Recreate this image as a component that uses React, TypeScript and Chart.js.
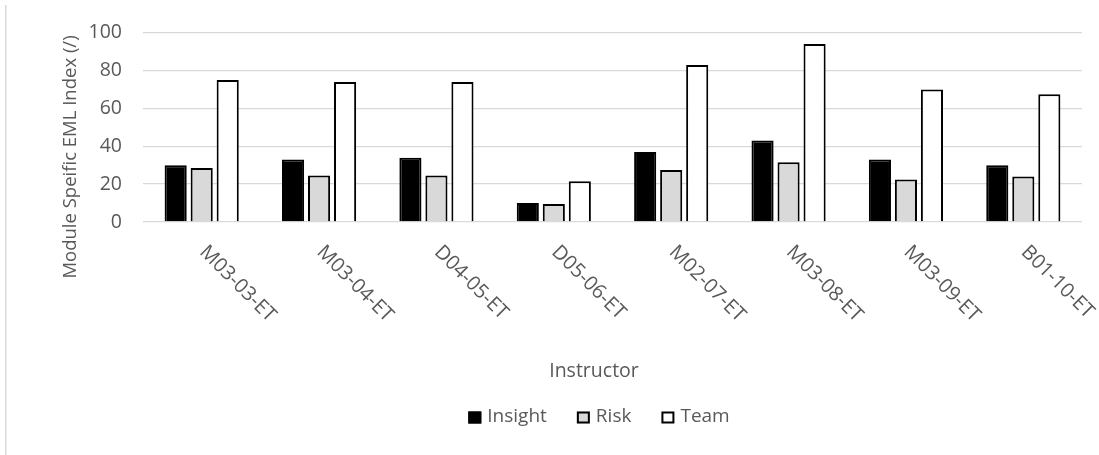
import React, { useEffect, useRef } from "react";
import { Chart, registerables } from "chart.js";

Chart.register(...registerables);

const categories = ["M03-03-ET", "M03-04-ET", "D04-05-ET", "D05-06-ET", "M02-07-ET", "M03-08-ET", "M03-09-ET", "B01-10-ET"];
const insightValues = [30, 33, 34, 10, 37, 43, 33, 30];
const riskValues = [28.5, 24.5, 24.5, 9.5, 27.5, 31.5, 22.5, 24];
const teamValues = [75, 74, 74, 21.5, 83, 94, 70, 67.5];
const seriesNames = ["Insight", "Risk", "Team"];
const seriesFills = ["#000000", "#d9d9d9", "#ffffff"];

const xTitle = "Instructor";
const yTitle = "Module Speific EML Index (/)";

const TEXT = "#595959";
const FONT = '"Open Sans", "Noto Sans", sans-serif';

const overlayPlugin = {
  id: "overlay",
  beforeDraw(chart: any) {
    const ctx = chart.ctx;
    ctx.save();
    ctx.fillStyle = "#ffffff";
    ctx.fillRect(0, 0, chart.width, chart.height);
    ctx.fillStyle = "#d9d9d9";
    ctx.fillRect(5, 5, 1.5, chart.height - 5);
    ctx.restore();
  },
  afterDraw(chart: any) {
    const ctx = chart.ctx;
    const xs = chart.scales.x;
    const area = chart.chartArea;
    ctx.save();
    ctx.fillStyle = TEXT;
    ctx.font = `20px ${FONT}`;
    // rotated category labels
    categories.forEach((label, i) => {
      const px = xs.getPixelForTick(i);
      ctx.save();
      ctx.translate(px - 3, area.bottom + 31);
      ctx.rotate(Math.PI / 4);
      ctx.textAlign = "left";
      ctx.textBaseline = "alphabetic";
      ctx.fillText(label, 0, 0);
      ctx.restore();
    });
    ctx.font = `19.5px ${FONT}`;
    // x title
    ctx.textAlign = "center";
    ctx.textBaseline = "alphabetic";
    ctx.fillText(xTitle, 594, 377);
    // y title
    ctx.save();
    ctx.translate(71, 157);
    ctx.rotate(-Math.PI / 2);
    ctx.textAlign = "center";
    ctx.textBaseline = "middle";
    ctx.font = `18.5px ${FONT}`;
    ctx.fillText(yTitle, 0, 0);
    ctx.restore();
    // legend
    ctx.font = `19px ${FONT}`;
    const boxW = 13;
    const boxH = 12;
    const gap = 6;
    const spacing = 30;
    const names = chart.data.datasets.map((d: any) => d.label);
    const widths = names.map((n: string) => ctx.measureText(n).width);
    const total = widths.reduce((a: number, w: number) => a + w + boxW + gap, 0) + spacing * (names.length - 1);
    let cx = 599 - total / 2;
    const baseY = 422;
    names.forEach((n: string, i: number) => {
      const ds = chart.data.datasets[i];
      ctx.fillStyle = ds.backgroundColor;
      ctx.fillRect(cx, 411.5, boxW, boxH);
      ctx.strokeStyle = "#000000";
      ctx.lineWidth = 2;
      ctx.strokeRect(cx + 1, 412.5, boxW - 2, boxH - 2);
      ctx.fillStyle = TEXT;
      ctx.textAlign = "left";
      ctx.fillText(n, cx + boxW + gap, baseY);
      cx += boxW + gap + widths[i] + spacing;
    });
    ctx.restore();
  },
};

export default function App() {
  const ref = useRef<HTMLCanvasElement | null>(null);
  useEffect(() => {
    if (!ref.current) return;
    const valueSets = [insightValues, riskValues, teamValues];
    const chart = new Chart(ref.current, {
      type: "bar",
      data: {
        labels: categories,
        datasets: seriesNames.map((name, i) => ({
          label: name,
          data: valueSets[i],
          backgroundColor: seriesFills[i],
          borderColor: "#000000",
          borderWidth: 2,
          categoryPercentage: 0.665,
          barPercentage: 0.85,
        })),
      },
      options: {
        responsive: false,
        animation: false,
        devicePixelRatio: 1,
        layout: { padding: { left: 0, right: 17, top: 32, bottom: 233 } },
        plugins: {
          legend: { display: false },
          tooltip: { enabled: false },
        },
        scales: {
          x: {
            ticks: { display: false },
            grid: { display: false },
            border: { display: false },
            afterFit(scale: any) {
              scale.height = 0;
            },
          },
          y: {
            min: 0,
            max: 100,
            ticks: {
              stepSize: 20,
              color: TEXT,
              padding: 21,
              font: { size: 19.5, family: FONT },
            },
            grid: { color: "#d9d9d9", lineWidth: 1.3, drawTicks: false },
            border: { display: false },
            afterFit(scale: any) {
              scale.width = 143;
            },
          },
        },
      },
      plugins: [overlayPlugin],
    });
    return () => chart.destroy();
  }, []);
  return (
    <div style={{ position: "fixed", left: 0, top: 0, width: 1099, height: 455, background: "#fff" }}>
      <canvas ref={ref} width={1099} height={455} style={{ width: 1099, height: 455, display: "block" }} />
    </div>
  );
}
